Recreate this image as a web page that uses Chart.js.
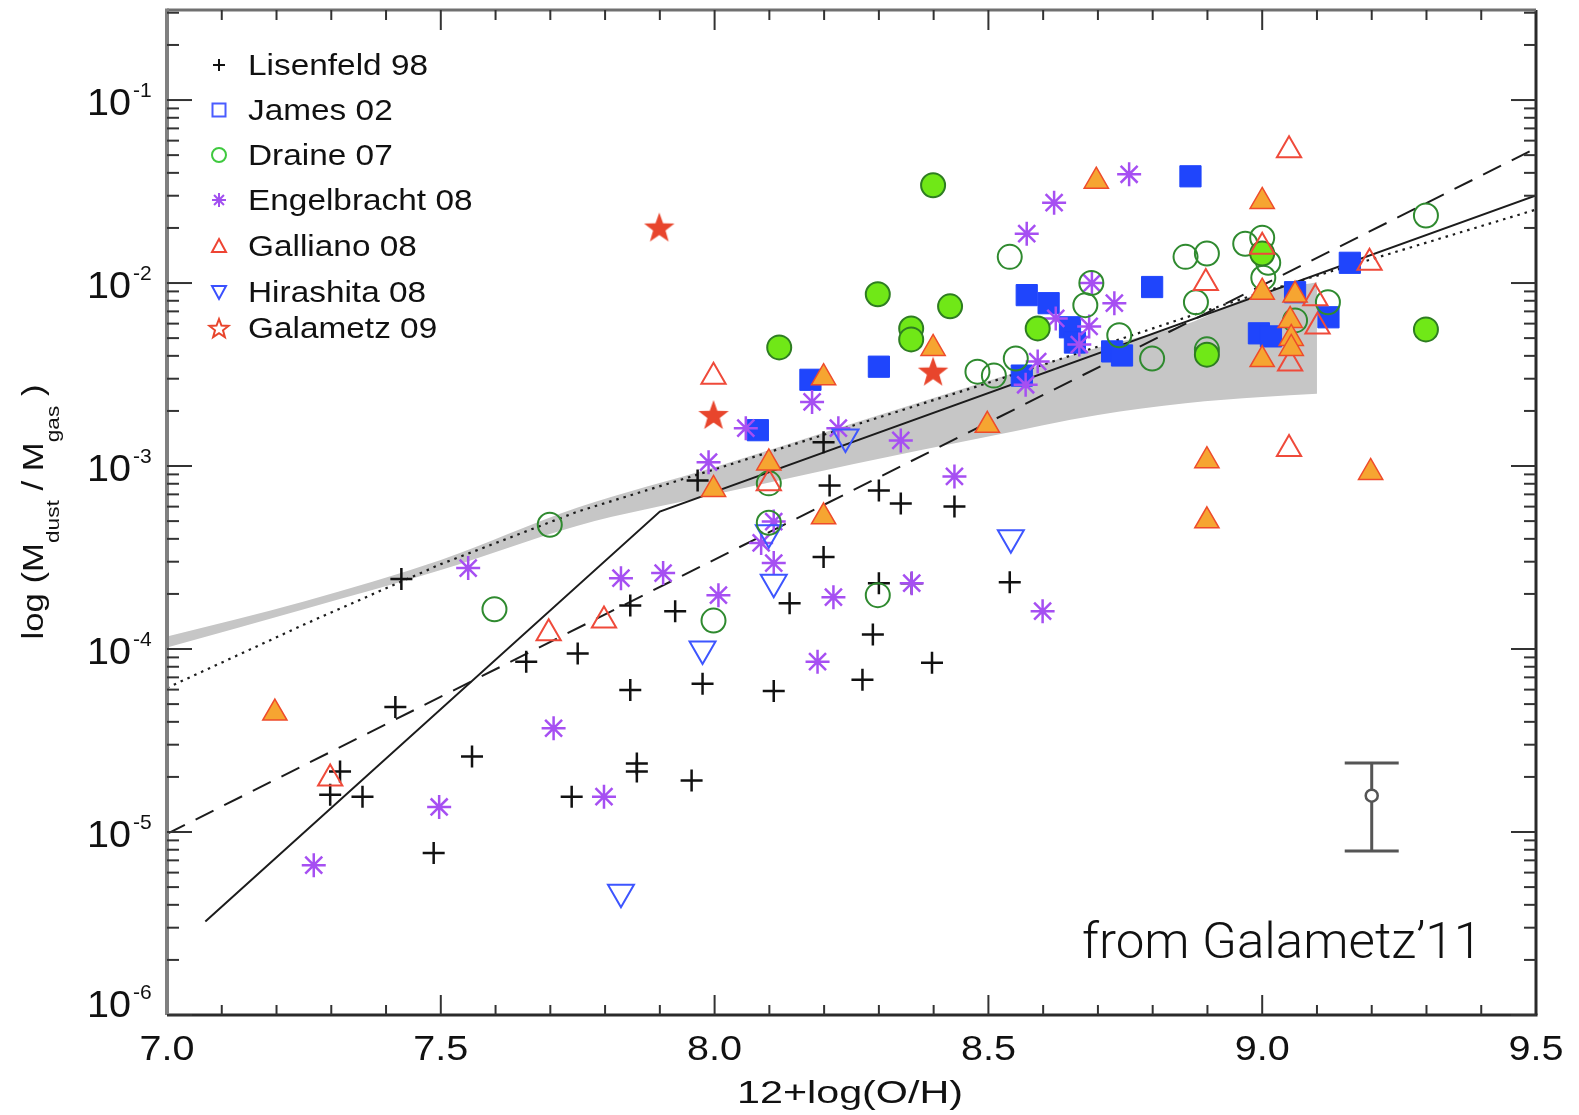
<!DOCTYPE html>
<html>
<head>
<meta charset="utf-8">
<title>Dust-to-gas mass ratio vs metallicity</title>
<script src="https://cdn.jsdelivr.net/npm/chart.js@4.4.1/dist/chart.umd.min.js"></script>
<style>
  html, body { margin: 0; padding: 0; background: #fff; overflow: hidden; }
  #wrap { width: 1579px; height: 1115px; }
</style>
</head>
<body>
<div id="wrap"><canvas id="dtg" width="1579" height="1115"></canvas></div>
<script>
// values: x = 12+log(O/H), y = Mdust/Mgas
const lisenfeldX = [7.428, 7.417, 7.316, 7.298, 7.357, 7.487, 7.557, 7.656, 7.750, 7.739, 7.846, 7.846, 7.858, 7.858, 7.928, 7.958,
                    7.978, 7.969, 8.108, 8.137, 8.199, 8.199, 8.210, 8.300, 8.289, 8.270, 8.300, 8.340, 8.360, 8.397, 8.438, 8.539];
const lisenfeldY = [2.41e-4, 4.82e-5, 2.14e-5, 1.60e-5, 1.56e-5, 7.67e-6, 2.59e-5, 8.53e-5, 9.44e-5, 1.56e-5, 1.73e-4, 5.98e-5, 2.37e-5, 2.14e-5, 1.61e-4, 1.91e-5,
                    6.46e-5, 8.34e-4, 5.90e-5, 1.78e-4, 1.35e-3, 3.18e-4, 7.83e-4, 7.35e-4, 1.20e-4, 6.79e-5, 2.29e-4, 6.24e-4, 2.29e-4, 8.41e-5, 6.00e-4, 2.32e-4];

const jamesX = [8.079, 8.175, 8.300, 8.561, 8.570, 8.610, 8.649, 8.658, 8.726, 8.744, 8.799, 8.869, 8.994, 9.016, 9.060, 9.121, 9.160];
const jamesY = [1.57e-3, 2.96e-3, 3.49e-3, 3.12e-3, 8.59e-3, 7.76e-3, 5.73e-3, 4.73e-3, 4.23e-3, 4.02e-3, 9.51e-3, 3.83e-2, 5.31e-3, 5.11e-3, 8.91e-3, 6.50e-3, 1.29e-2];

const draineOpenX = [7.699, 7.598, 7.998, 8.099, 8.099, 8.298, 8.539, 8.480, 8.510, 8.550, 8.677, 8.688, 8.739, 8.799, 8.860, 8.899,
                     8.969, 9.000, 9.011, 9.002, 8.879, 9.120, 9.060, 8.899, 9.299];
const draineOpenY = [4.78e-4, 1.65e-4, 1.43e-4, 4.90e-4, 8.04e-4, 1.97e-4, 1.39e-2, 3.28e-3, 3.12e-3, 3.87e-3, 7.57e-3, 1.00e-2, 5.18e-3, 3.87e-3, 1.39e-2, 1.45e-2,
                     1.64e-2, 1.77e-2, 1.29e-2, 1.07e-2, 7.85e-3, 7.85e-3, 6.25e-3, 4.34e-3, 2.34e-2];
const draineFullX = [8.399, 8.118, 8.298, 8.359, 8.359, 8.430, 8.590, 9.000, 8.899, 9.299];
const draineFullY = [3.42e-2, 4.45e-3, 8.69e-3, 5.65e-3, 4.92e-3, 7.46e-3, 5.65e-3, 1.45e-2, 4.06e-3, 5.58e-3];

const engelbrachtX = [7.268, 7.497, 7.550, 7.706, 7.798, 7.829, 7.906, 7.989, 8.007, 8.057, 8.085, 8.108, 8.108, 8.178, 8.188, 8.217,
                      8.226, 8.340, 8.360, 8.438, 8.568, 8.590, 8.599, 8.570, 8.620, 8.623, 8.666, 8.684, 8.689, 8.730, 8.757];
const engelbrachtY = [6.59e-6, 1.37e-5, 2.77e-4, 3.69e-5, 1.56e-5, 2.44e-4, 2.60e-4, 1.05e-3, 1.97e-4, 1.61e-3, 3.80e-4, 4.97e-4, 2.95e-4, 2.24e-3, 8.53e-5, 1.92e-4,
                      1.61e-3, 1.38e-3, 2.29e-4, 8.77e-4, 2.78e-3, 3.72e-3, 1.61e-4, 1.86e-2, 2.75e-2, 6.41e-3, 4.61e-3, 5.79e-3, 1.00e-2, 7.76e-3, 3.93e-2];

const gallianoOpenX = [7.998, 8.099, 7.298, 7.697, 7.798, 9.049, 8.897, 9.196, 9.097, 9.101, 9.051, 9.049, 9.000];
const gallianoOpenY = [3.08e-3, 8.04e-4, 1.96e-5, 1.22e-4, 1.43e-4, 5.32e-2, 1.00e-2, 1.29e-2, 8.26e-3, 5.79e-3, 3.63e-3, 1.24e-3, 1.58e-2];
const gallianoFullX = [7.197, 7.998, 8.099, 8.199, 8.199, 8.399, 8.498, 8.697, 8.899, 8.899, 9.000, 9.000, 9.060, 9.051, 9.053, 9.053, 9.000, 9.198];
const gallianoFullY = [4.47e-5, 7.45e-4, 1.04e-3, 3.04e-3, 5.28e-4, 4.39e-3, 1.67e-3, 3.60e-2, 1.07e-3, 5.02e-4, 2.79e-2, 8.91e-3, 8.59e-3, 6.25e-3, 4.98e-3, 4.39e-3, 3.82e-3, 9.23e-4];

const hirashitaX = [7.829, 7.978, 8.108, 8.541, 8.239, 8.099];
const hirashitaY = [4.68e-6, 1.00e-4, 2.32e-4, 4.06e-4, 1.44e-3, 4.32e-4];

const galametzX = [7.899, 7.998, 8.399];
const galametzY = [2.01e-2, 1.90e-3, 3.28e-3];

// model curves and the grey model band
const solidX = [7.07, 7.90, 9.5];
const solidY = [3.24e-6, 5.64e-4, 3.01e-2];
const dashedX = [7.0, 9.5];
const dashedY = [9.77e-6, 5.46e-2];
const dottedX = [7.0, 7.25, 7.5, 7.75, 8.0, 8.5, 9.0, 9.5];
const dottedY = [6.13e-5, 1.36e-4, 2.91e-4, 5.64e-4, 9.59e-4, 2.85e-3, 8.91e-3, 2.52e-2];
const bandX = [7.0, 7.25, 7.5, 7.75, 8.0, 8.25, 8.5, 8.7, 8.86, 9.0, 9.1];
const bandHigh = [1.17e-4, 1.82e-4, 3.07e-4, 5.93e-4, 9.84e-4, 1.70e-3, 2.92e-3, 4.45e-3, 5.94e-3, 8.91e-3, 1.01e-2];
const bandLow = [1.02e-4, 1.65e-4, 2.70e-4, 4.72e-4, 6.98e-4, 1.02e-3, 1.45e-3, 1.90e-3, 2.20e-3, 2.38e-3, 2.48e-3];

// typical error bar
const errX = 9.2;
const errMid = 1.58e-5, errHigh = 2.38e-5, errLow = 7.87e-6;

const legendLabels = ['Lisenfeld 98', 'James 02', 'Draine 07', 'Engelbracht 08', 'Galliano 08', 'Hirashita 08', 'Galametz 09'];
const xTickLabels = ['7.0', '7.5', '8.0', '8.5', '9.0', '9.5'];
const yTickExponents = [-1, -2, -3, -4, -5, -6];

const FONT = '"Liberation Sans", Helvetica, Arial, sans-serif';

function pts(xs, ys) {
    return xs.map((x, i) => ({ x: x, y: ys[i] }));
}

function starPath(ctx, cx, cy, outer, inner) {
    ctx.beginPath();
    for (let i = 0; i < 10; i++) {
        const r = i % 2 ? inner : outer;
        const a = -Math.PI / 2 + i * Math.PI / 5;
        const px = cx + r * Math.cos(a), py = cy + r * Math.sin(a);
        if (i === 0) ctx.moveTo(px, py); else ctx.lineTo(px, py);
    }
    ctx.closePath();
}

// Chart.js has no five-pointed star, so hand it a small canvas
const starImg = document.createElement('canvas');
starImg.width = 34;
starImg.height = 34;
(function () {
    const c = starImg.getContext('2d');
    starPath(c, 17, 18, 16, 6.5);
    c.fillStyle = '#e8452c';
    c.fill();
})();

function line(ctx, x1, y1, x2, y2) {
    ctx.beginPath();
    ctx.moveTo(x1, y1);
    ctx.lineTo(x2, y2);
    ctx.stroke();
}

function text(ctx, str, x, y, font, align, sx) {
    ctx.save();
    ctx.font = font;
    ctx.translate(x, y);
    ctx.scale(sx, 1);
    ctx.textAlign = align;
    ctx.textBaseline = 'alphabetic';
    ctx.fillText(str, 0, 0);
    ctx.restore();
}

function legendMark(ctx, i, x, y) {
    ctx.save();
    ctx.lineWidth = 2;
    if (i === 0) {
        ctx.strokeStyle = '#111';
        line(ctx, x - 6, y, x + 6, y);
        line(ctx, x, y - 6, x, y + 6);
    } else if (i === 1) {
        ctx.strokeStyle = '#4a5cff';
        ctx.strokeRect(x - 6.5, y - 6.5, 13, 13);
    } else if (i === 2) {
        ctx.strokeStyle = '#3fc93f';
        ctx.beginPath();
        ctx.arc(x, y, 7, 0, Math.PI * 2);
        ctx.stroke();
    } else if (i === 3) {
        ctx.strokeStyle = '#a24ff0';
        for (let k = 0; k < 4; k++) {
            const a = k * Math.PI / 4;
            line(ctx, x - 7 * Math.cos(a), y - 7 * Math.sin(a), x + 7 * Math.cos(a), y + 7 * Math.sin(a));
        }
    } else if (i === 4) {
        ctx.strokeStyle = '#ee4433';
        ctx.beginPath();
        ctx.moveTo(x, y - 7); ctx.lineTo(x + 7, y + 6); ctx.lineTo(x - 7, y + 6); ctx.closePath();
        ctx.stroke();
    } else if (i === 5) {
        ctx.strokeStyle = '#3a50ff';
        ctx.beginPath();
        ctx.moveTo(x - 7, y - 6); ctx.lineTo(x + 7, y - 6); ctx.lineTo(x, y + 7); ctx.closePath();
        ctx.stroke();
    } else {
        ctx.strokeStyle = '#e8452c';
        starPath(ctx, x, y + 1, 10, 4.2);
        ctx.stroke();
    }
    ctx.restore();
}

const idlFrame = {
    id: 'idlFrame',
    beforeDraw(chart) {
        const ctx = chart.ctx;
        ctx.save();
        ctx.fillStyle = '#fff';
        ctx.fillRect(0, 0, chart.width, chart.height);
        ctx.restore();
    },
    afterDraw(chart) {
        const { ctx, chartArea: a, scales } = chart;
        const xs = scales.x, ys = scales.y;
        ctx.save();

        // frame
        ctx.lineCap = 'butt';
        ctx.lineWidth = 3;
        ctx.strokeStyle = '#2a2a2a';
        line(ctx, a.left, a.bottom, a.right + 1.5, a.bottom);
        line(ctx, a.right, a.top, a.right, a.bottom);
        ctx.strokeStyle = '#707070';
        line(ctx, a.left, a.top, a.right, a.top);
        ctx.lineWidth = 4;
        ctx.strokeStyle = '#808080';
        line(ctx, a.left, a.top - 1.5, a.left, a.bottom);

        // inward ticks, x
        ctx.lineWidth = 2;
        ctx.strokeStyle = '#333';
        for (let i = 1; i < 25; i++) {
            const px = xs.getPixelForValue(7 + i / 10);
            const len = i % 5 === 0 ? 20 : 10;
            line(ctx, px, a.bottom, px, a.bottom - len);
            line(ctx, px, a.top, px, a.top + len);
        }
        // inward ticks, y (log)
        for (let e = -6; e <= -1; e++) {
            for (let m = 1; m <= 9; m++) {
                const v = m * Math.pow(10, e);
                if (v > ys.max) break;
                const py = ys.getPixelForValue(v);
                const len = m === 1 ? 25 : 12;
                line(ctx, a.left, py, a.left + len, py);
                line(ctx, a.right, py, a.right - len, py);
            }
        }

        ctx.fillStyle = '#111';

        // y tick labels 10^-n
        yTickExponents.forEach(e => {
            const py = ys.getPixelForValue(Math.pow(10, e));
            const base = e === -6 ? py + 2 : py + 15;
            ctx.font = '36px ' + FONT;
            const w = ctx.measureText('10').width;
            text(ctx, '10', 131, base, '36px ' + FONT, 'right', 44 / w);
            text(ctx, String(e), 133, base - 18, '21px ' + FONT, 'left', 1.0);
        });

        // x tick labels
        xTickLabels.forEach(s => {
            const px = xs.getPixelForValue(parseFloat(s));
            text(ctx, s, px, 1060, '35px ' + FONT, 'center', 1.13);
        });

        // x title
        ctx.font = '32px ' + FONT;
        const tw = ctx.measureText('12+log(O/H)').width;
        text(ctx, '12+log(O/H)', 850, 1103, '32px ' + FONT, 'center', 226 / tw);

        // y title with subscripts
        const parts = [['log (M', 0], ['dust', 1], [' / M', 0], ['gas', 1], [' )', 0]];
        const mainF = '29px ' + FONT, subF = '19px ' + FONT;
        let total = 0;
        parts.forEach(p => { ctx.font = p[1] ? subF : mainF; total += ctx.measureText(p[0]).width; });
        ctx.save();
        ctx.translate(43, 512);
        ctx.rotate(-Math.PI / 2);
        ctx.scale(255 / total, 1);
        let cx = -total / 2;
        ctx.textAlign = 'left';
        parts.forEach(p => {
            ctx.font = p[1] ? subF : mainF;
            ctx.fillText(p[0], cx, p[1] ? 16 : 0);
            cx += ctx.measureText(p[0]).width;
        });
        ctx.restore();

        // legend
        const rows = [65, 110, 155, 200, 246, 292, 328];
        ctx.font = '30px ' + FONT;
        const lsx = 180 / ctx.measureText(legendLabels[0]).width;
        legendLabels.forEach((lab, i) => {
            legendMark(ctx, i, 219, rows[i]);
            ctx.fillStyle = '#111';
            text(ctx, lab, 248, rows[i] + 10, '30px ' + FONT, 'left', lsx);
        });

        // credit
        const cf = '300 50px Roboto, "Liberation Sans", sans-serif';
        ctx.font = cf;
        const cw = ctx.measureText('from Galametz\u201911').width;
        text(ctx, 'from Galametz\u201911', 1482, 958, cf, 'right', 400 / cw);

        ctx.restore();
    }
};

const clear = 'rgba(0,0,0,0)';
const ink = '#1c1c1c';

const datasets = [
    { label: 'Galametz 09', data: pts(galametzX, galametzY), pointStyle: starImg, pointRadius: 16, order: 1 },
    { label: 'Galliano 08', data: pts(gallianoFullX, gallianoFullY), pointStyle: 'triangle', pointRadius: 14,
      pointBackgroundColor: '#f6a531', pointBorderColor: '#ee4b2b', pointBorderWidth: 1.5, order: 2 },
    { label: 'Galliano 08 (open)', data: pts(gallianoOpenX, gallianoOpenY), pointStyle: 'triangle', pointRadius: 14,
      pointBackgroundColor: clear, pointBorderColor: '#ef4a3a', pointBorderWidth: 2, order: 3 },
    { label: 'Draine 07', data: pts(draineFullX, draineFullY), pointStyle: 'circle', pointRadius: 12,
      pointBackgroundColor: '#70e817', pointBorderColor: '#2e7d22', pointBorderWidth: 2, order: 4 },
    { label: 'Draine 07 (open)', data: pts(draineOpenX, draineOpenY), pointStyle: 'circle', pointRadius: 12,
      pointBackgroundColor: clear, pointBorderColor: '#2f8a2f', pointBorderWidth: 2, order: 5 },
    { label: 'Hirashita 08', data: pts(hirashitaX, hirashitaY), pointStyle: 'triangle', pointRadius: 15, pointRotation: 180,
      pointBackgroundColor: clear, pointBorderColor: '#3d55ff', pointBorderWidth: 2, order: 6 },
    { label: 'Engelbracht 08', data: pts(engelbrachtX, engelbrachtY), pointStyle: 'star', pointRadius: 12,
      pointBorderColor: '#a64ff2', pointBorderWidth: 2.5, order: 7 },
    { label: 'James 02', data: pts(jamesX, jamesY), pointStyle: 'rect', pointRadius: 15,
      pointBackgroundColor: '#1f45fc', pointBorderColor: '#1f45fc', pointBorderWidth: 1, order: 8 },
    { label: 'Lisenfeld 98', data: pts(lisenfeldX, lisenfeldY), pointStyle: 'cross', pointRadius: 11,
      pointBorderColor: '#111', pointBorderWidth: 2.5, order: 9 },

    // error bar
    { type: 'line', data: pts([errX, errX], [errHigh, errLow]), borderColor: '#555', borderWidth: 3, pointRadius: 0, order: 12 },
    { data: pts([errX, errX], [errHigh, errLow]), pointStyle: 'line', pointRadius: 27, pointBorderColor: '#555', pointBorderWidth: 3, order: 11 },
    { data: pts([errX], [errMid]), pointStyle: 'circle', pointRadius: 6, pointBackgroundColor: '#fff', pointBorderColor: '#555', pointBorderWidth: 2.5, order: 10 },

    // models
    { type: 'line', data: pts(solidX, solidY), borderColor: ink, borderWidth: 2, pointRadius: 0, fill: false, order: 20 },
    { type: 'line', data: pts(dashedX, dashedY), borderColor: ink, borderWidth: 2, borderDash: [20, 12], pointRadius: 0, fill: false, order: 21 },
    { type: 'line', data: pts(dottedX, dottedY), borderColor: ink, borderWidth: 2.2, borderDash: [2.5, 5], pointRadius: 0, fill: false, order: 22 },

    // grey band: lower edge, then upper edge filled down to it
    { type: 'line', data: pts(bandX, bandLow), borderColor: clear, borderWidth: 1, pointRadius: 0, fill: false,
      cubicInterpolationMode: 'monotone', order: 31 },
    { type: 'line', data: pts(bandX, bandHigh), borderColor: clear, borderWidth: 1, pointRadius: 0, fill: '-1',
      cubicInterpolationMode: 'monotone', backgroundColor: '#c6c6c6', order: 30 }
];

new Chart(document.getElementById('dtg'), {
    type: 'scatter',
    data: { datasets: datasets },
    options: {
        responsive: false,
        animation: false,
        devicePixelRatio: 1,
        events: [],
        layout: { autoPadding: false, padding: { left: 167, right: 43, top: 10, bottom: 100 } },
        plugins: {
            legend: { display: false },
            tooltip: { enabled: false }
        },
        scales: {
            x: { type: 'linear', min: 7, max: 9.5, display: false },
            y: { type: 'logarithmic', min: 1e-6, max: 0.3105, display: false }
        }
    },
    plugins: [idlFrame]
});
</script>
</body>
</html>
